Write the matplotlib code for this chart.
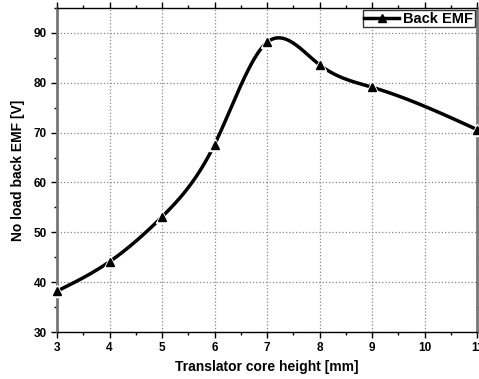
import numpy as np
import matplotlib.pyplot as plt
from matplotlib.ticker import MultipleLocator

plt.rcParams['font.family'] = ['Liberation Sans', 'DejaVu Sans']
plt.rcParams['font.weight'] = 'bold'

height = [3, 4, 5, 6, 7, 8, 9, 11]
emf = [38.2, 44.1, 53.1, 67.6, 88.1, 83.6, 79.1, 70.6]


def natural_spline(x, y, n=400):
    # natural cubic spline, like the smooth line in Origin
    x = np.asarray(x, float)
    y = np.asarray(y, float)
    k = len(x)
    h = np.diff(x)
    A = np.zeros((k, k))
    b = np.zeros(k)
    A[0, 0] = A[-1, -1] = 1
    for i in range(1, k - 1):
        A[i, i - 1] = h[i - 1]
        A[i, i] = 2 * (h[i - 1] + h[i])
        A[i, i + 1] = h[i]
        b[i] = 6 * ((y[i + 1] - y[i]) / h[i] - (y[i] - y[i - 1]) / h[i - 1])
    M = np.linalg.solve(A, b)
    xs = np.linspace(x[0], x[-1], n)
    idx = np.clip(np.searchsorted(x, xs) - 1, 0, k - 2)
    x0, x1 = x[idx], x[idx + 1]
    hh = x1 - x0
    t0 = x1 - xs
    t1 = xs - x0
    ys = (M[idx] * t0**3 + M[idx + 1] * t1**3) / (6 * hh) \
        + (y[idx] / hh - M[idx] * hh / 6) * t0 \
        + (y[idx + 1] / hh - M[idx + 1] * hh / 6) * t1
    return xs, ys


fig = plt.figure(figsize=(4.79, 3.79), dpi=100)
ax = fig.add_axes([0.119, 0.124, 0.877, 0.855])

xs, ys = natural_spline(height, emf)
ax.plot(xs, ys, '-', color='black', lw=2.5, zorder=3)
ax.plot(height, emf, '^', color='white', ms=9, zorder=4, clip_on=False)
ax.plot(height, emf, '^', color='black', ms=5.5, zorder=5, clip_on=False)
ax.plot([], [], '-^', color='black', lw=2.5, ms=5.5, label='Back EMF')

ax.set_xlim(3, 11)
ax.set_ylim(30, 95)
ax.xaxis.set_major_locator(MultipleLocator(1))
ax.xaxis.set_minor_locator(MultipleLocator(0.5))
ax.yaxis.set_major_locator(MultipleLocator(10))
ax.yaxis.set_minor_locator(MultipleLocator(5))
ax.tick_params(which='both', direction='out', top=True, right=True,
               labelsize=8.5, width=1)
ax.tick_params(which='major', length=4)
ax.tick_params(which='minor', length=2.5)
ax.grid(True, which='major', linestyle=':', color='#888888', lw=0.9)

for s in ['left', 'right']:
    ax.spines[s].set_color('#777777')
    ax.spines[s].set_linewidth(2)
for s in ['top', 'bottom']:
    ax.spines[s].set_linewidth(1)

ax.set_xlabel('Translator core height [mm]', fontsize=10, fontweight='bold')
ax.set_ylabel('No load back EMF [V]', fontsize=10, fontweight='bold', labelpad=6)

leg = ax.legend(loc='upper right', fontsize=10.5, frameon=True, fancybox=False,
                borderpad=0.1, handlelength=2.4, handletextpad=0.3,
                borderaxespad=0.15)
leg.get_frame().set_edgecolor('black')
leg.get_frame().set_linewidth(1)

fig.savefig('out.png', dpi=100)
